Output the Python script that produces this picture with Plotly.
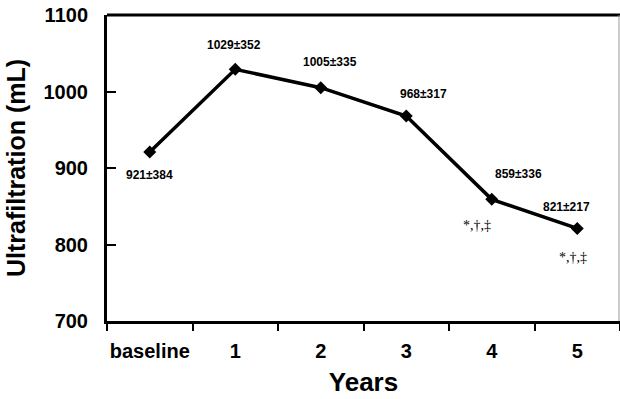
import plotly.graph_objects as go

categories = ["baseline", "1", "2", "3", "4", "5"]
values = [921, 1029, 1005, 968, 859, 821]
value_labels = ["921±384", "1029±352", "1005±335", "968±317", "859±336", "821±217"]
sig_labels = ["", "", "", "", "*,†,‡", "*,†,‡"]
y_ticks = [700, 800, 900, 1000, 1100]

# label offsets in px (xshift, yshift) relative to each point
label_shift = [(0, -23), (-1, 24), (9, 26), (17, 22), (27, 25), (-11, 21)]
sig_shift = [(0, 0), (0, 0), (0, 0), (0, 0), (-15, -26), (-4, -29)]

fig = go.Figure()
fig.add_trace(go.Scatter(
    x=categories, y=values, mode="lines+markers",
    line=dict(color="black", width=3.5),
    marker=dict(symbol="diamond", size=10, color="black"),
    cliponaxis=False, showlegend=False,
))

for c, v, t, (dx, dy) in zip(categories, values, value_labels, label_shift):
    fig.add_annotation(x=c, y=v, text=t, showarrow=False, xshift=dx, yshift=dy,
                       font=dict(family="Liberation Sans, Arial", size=12, color="black", weight="bold"))
for c, v, t, (dx, dy) in zip(categories, values, sig_labels, sig_shift):
    if t:
        fig.add_annotation(x=c, y=v, text=t, showarrow=False, xshift=dx, yshift=dy,
                           font=dict(family="Liberation Serif, Times New Roman", size=14, color="black"))

# top border (thick) and right border (thin gray)
fig.add_shape(type="line", xref="paper", yref="paper", x0=0, x1=1, y0=1, y1=1,
              line=dict(color="black", width=3))
fig.add_shape(type="line", xref="paper", yref="paper", x0=0.998, x1=0.998, y0=0, y1=1,
              line=dict(color="#999", width=1))

fig.update_layout(
    width=620, height=399,
    margin=dict(l=107, r=0, t=15, b=78),
    plot_bgcolor="white", paper_bgcolor="white",
    font=dict(family="Liberation Sans, Arial", color="black"),
)
fig.update_xaxes(
    type="category", tickson="boundaries", tickangle=0, automargin=False,
    range=[-0.5, 5.5],
    showline=True, linecolor="black", linewidth=3,
    ticks="outside", ticklen=7, tickwidth=2, tickcolor="black",
    showgrid=False, zeroline=False,
    tickfont=dict(size=20, weight="bold"),
    ticklabelstandoff=10,
    title=dict(text="Years", font=dict(size=26, weight="bold"), standoff=12),
)
fig.update_yaxes(
    range=[700, 1100], tickvals=y_ticks, automargin=False,
    showline=True, linecolor="black", linewidth=3,
    ticks="inside", ticklen=9, tickwidth=2, tickcolor="black",
    showgrid=False, zeroline=False,
    tickfont=dict(size=20, weight="bold"),
    ticklabelstandoff=12,
    title=dict(text="Ultrafiltration (mL)", font=dict(size=25, weight="bold"), standoff=11),
)

fig.write_html("out.html")
